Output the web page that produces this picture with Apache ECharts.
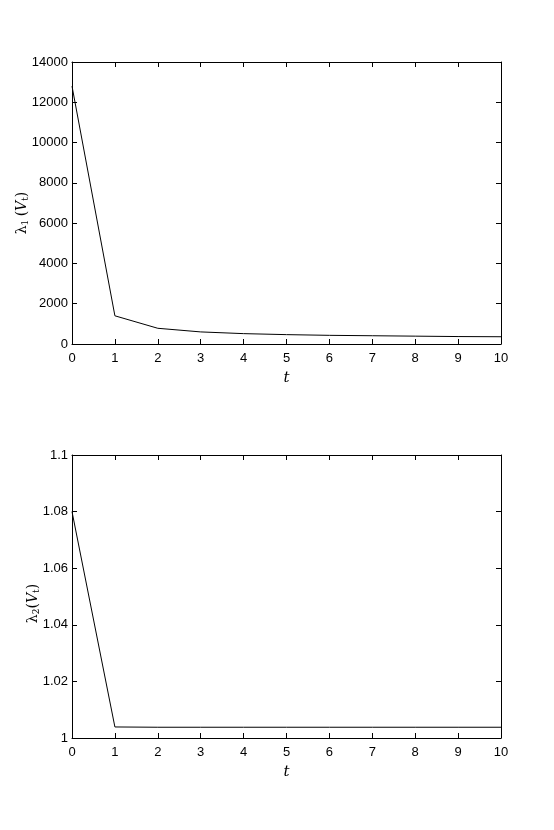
<!DOCTYPE html>
<html>
<head>
<meta charset="utf-8">
<script src="https://cdn.jsdelivr.net/npm/echarts@6/dist/echarts.min.js"></script>
<style>
  html, body { margin: 0; padding: 0; background: #fff; }
  #main { width: 554px; height: 830px; }
</style>
</head>
<body>
<div id="main"></div>
<script>
// data
var tValues = [0, 1, 2, 3, 4, 5, 6, 7, 8, 9, 10];
var lambda1 = [12800, 1400, 780, 600, 515, 465, 430, 410, 390, 370, 360];
var lambda2 = [1.08, 1.0039, 1.0038, 1.0038, 1.0038, 1.0038, 1.0038, 1.0038, 1.0038, 1.0038, 1.0038];

var font = '"Liberation Sans", Arial, sans-serif';
var axisCol = '#000';

function pairs(ys) {
  return tValues.map(function (t, i) { return [t, ys[i]]; });
}

var nameRich = {
  a: { fontFamily: '"DejaVu Serif", serif', fontSize: 14, color: '#000', fontStyle: 'italic' },
  g: { fontFamily: '"DejaVu Serif", serif', fontSize: 14, color: '#000' },
  s: { fontFamily: '"DejaVu Serif", serif', fontSize: 9, color: '#000', verticalAlign: 'bottom', padding: [6, 0, 0, 0] }
};

function xMain(grid) {
  return {
    type: 'value', gridIndex: grid, min: 0, max: 10, interval: 1, position: 'bottom',
    name: 't', nameLocation: 'middle', nameGap: 27, nameMoveOverlap: false,
    nameTextStyle: { fontFamily: '"DejaVu Serif", serif', fontStyle: 'italic', fontSize: 15, color: '#000' },
    axisLine: { onZero: false, lineStyle: { color: axisCol, width: 1 } },
    axisTick: { inside: true, length: 5, lineStyle: { color: axisCol } },
    axisLabel: { fontFamily: font, fontSize: 13, color: '#000', margin: 8 },
    splitLine: { show: false }
  };
}
function xTop(grid) {
  return {
    type: 'value', gridIndex: grid, min: 0, max: 10, interval: 1, position: 'top',
    axisLine: { onZero: false, lineStyle: { color: axisCol, width: 1 } },
    axisTick: { inside: true, length: 5, lineStyle: { color: axisCol } },
    axisLabel: { show: false }, splitLine: { show: false }
  };
}
function yMain(grid, min, max, step, name, gap, shift) {
  return {
    type: 'value', gridIndex: grid, min: min, max: max, interval: step, position: 'left',
    name: name, nameLocation: 'middle', nameGap: gap, nameRotate: 90, nameMoveOverlap: false,
    nameTextStyle: { rich: nameRich, padding: [0, shift, 0, 0] },
    axisLine: { show: true, onZero: false, lineStyle: { color: axisCol, width: 1 } },
    axisTick: { show: true, inside: true, length: 5, lineStyle: { color: axisCol } },
    axisLabel: {
      fontFamily: font, fontSize: 13, color: '#000', margin: 4,
      formatter: function (v) { return String(+v.toFixed(4)); }
    },
    splitLine: { show: false }
  };
}
function yRight(grid, min, max, step) {
  return {
    type: 'value', gridIndex: grid, min: min, max: max, interval: step, position: 'right',
    axisLine: { show: true, onZero: false, lineStyle: { color: axisCol, width: 1 } },
    axisTick: { show: true, inside: true, length: 5, lineStyle: { color: axisCol } },
    axisLabel: { show: false }, splitLine: { show: false }
  };
}

var chart = echarts.init(document.getElementById('main'), null, { renderer: 'canvas' });
chart.setOption({
  backgroundColor: '#fff',
  animation: false,
  grid: [
    { left: 72, top: 62, width: 429, height: 282, outerBoundsMode: 'none', containLabel: false },
    { left: 72, top: 455, width: 429, height: 283, outerBoundsMode: 'none', containLabel: false }
  ],
  xAxis: [xMain(0), xTop(0), xMain(1), xTop(1)],
  yAxis: [
    yMain(0, 0, 14000, 2000, '{g|λ}{s|1} {g|(}{a|V}{s|t}{g|)}', 42, 20),
    yRight(0, 0, 14000, 2000),
    yMain(1, 1, 1.1, 0.02, '{g|λ}{s|2}{g|(}{a|V}{s|t}{g|)}', 31, 14),
    yRight(1, 1, 1.1, 0.02)
  ],
  series: [
    {
      type: 'line', xAxisIndex: 0, yAxisIndex: 0, data: pairs(lambda1),
      showSymbol: false, lineStyle: { color: '#000', width: 1 }
    },
    {
      type: 'line', xAxisIndex: 2, yAxisIndex: 2, data: pairs(lambda2),
      showSymbol: false, lineStyle: { color: '#000', width: 1 }
    }
  ]
});
</script>
</body>
</html>
